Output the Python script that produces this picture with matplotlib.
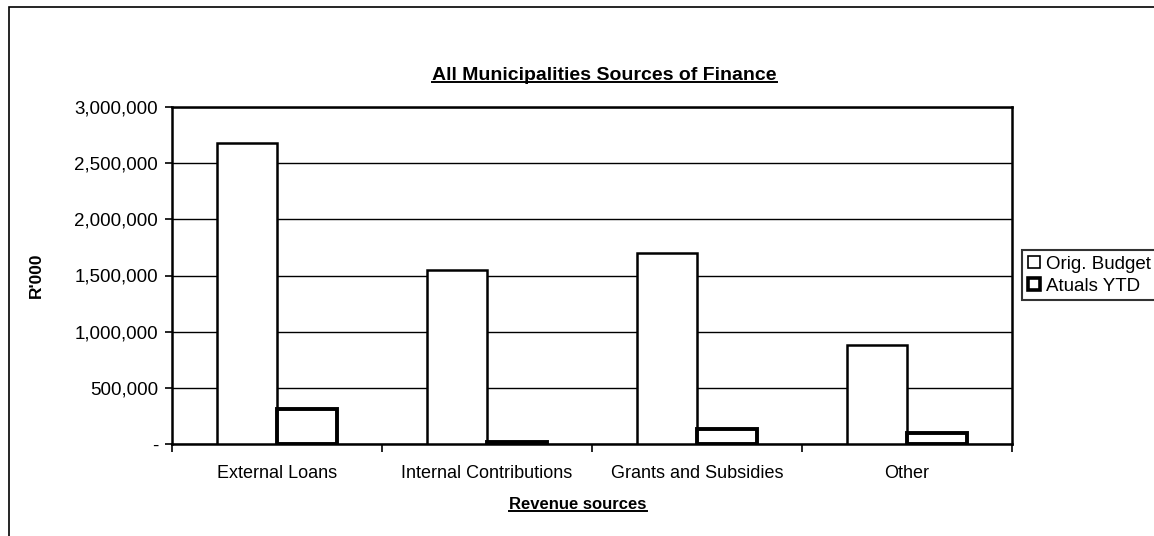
import matplotlib
matplotlib.use("Agg")
import matplotlib.pyplot as plt
from matplotlib.patches import Rectangle
from matplotlib.lines import Line2D
from matplotlib.ticker import FuncFormatter
import numpy as np

plt.rcParams["font.family"] = ["Liberation Sans", "DejaVu Sans"]

categories = ["External Loans", "Internal Contributions", "Grants and Subsidies", "Other"]
orig_budget = [2680000, 1550000, 1700000, 880000]
actuals_ytd = [310000, 20000, 135000, 100000]
series_names = ["Orig. Budget", "Atuals YTD"]

fig = plt.figure(figsize=(11.54, 5.36), dpi=100)
ax = fig.add_axes([172 / 1154, 92 / 536, 840 / 1154, 337 / 536])

x = np.arange(len(categories))
w = 60 / 210
ax.bar(x - w / 2, orig_budget, w, color="white", edgecolor="black", linewidth=1.8, zorder=3)
ax.bar(x + w / 2, actuals_ytd, w, color="white", edgecolor="black", linewidth=2.8, zorder=3)

ax.set_xlim(-0.5, len(categories) - 0.5)
ax.set_ylim(0, 3000000)
ax.set_yticks(np.arange(0, 3000001, 500000))
ax.yaxis.set_major_formatter(FuncFormatter(lambda v, p: "-" if v == 0 else f"{int(v):,}"))
ax.set_xticks(np.arange(-0.5, len(categories), 1.0))
ax.set_xticklabels([])
ax.set_xticks(x, minor=True)
ax.set_xticklabels(categories, minor=True, fontsize=13)
ax.tick_params(axis="x", which="minor", length=0, pad=15)
ax.tick_params(axis="x", which="major", length=6, width=1.2, direction="out")
ax.tick_params(axis="y", length=5, width=1.2, labelsize=13.5, pad=5)
ax.grid(axis="y", color="black", linewidth=1.0, zorder=0)
for s in ax.spines.values():
    s.set_linewidth(1.8)

ax.set_ylabel("R'000", fontsize=12.5, fontweight="bold", labelpad=22)

title = fig.text(0.524, 0.86, "All Municipalities Sources of Finance", ha="center", va="center",
                 fontsize=14, fontweight="bold")
xlab = fig.text(0.501, 0.058, "Revenue sources", ha="center", va="center",
                fontsize=12, fontweight="bold")

# legend
h1 = Line2D([], [], marker="s", linestyle="none", markersize=8, markerfacecolor="white",
            markeredgecolor="black", markeredgewidth=1.2)
h2 = Line2D([], [], marker="s", linestyle="none", markersize=8, markerfacecolor="white",
            markeredgecolor="black", markeredgewidth=2.6)
leg = fig.legend([h1, h2], series_names, loc="upper left", bbox_to_anchor=(1022 / 1154, 1 - 250 / 536),
                 fontsize=13.5, frameon=True, fancybox=False, handlelength=0.7, handletextpad=0.3,
                 borderpad=0.3, labelspacing=0.25, borderaxespad=0)
leg.get_frame().set_edgecolor("black")
leg.get_frame().set_linewidth(1.5)

# outer chart border
fig.patches.append(Rectangle((9 / 1154, -0.1), 1.2, 1 - 7 / 536 + 0.1, transform=fig.transFigure,
                             fill=False, edgecolor="black", linewidth=1.2))

# underlines for title and axis label
fig.canvas.draw()
r = fig.canvas.get_renderer()
inv = fig.transFigure.inverted()
for t in (title, xlab):
    bb = t.get_window_extent(r).transformed(inv)
    fig.add_artist(Line2D([bb.x0, bb.x1], [bb.y0 + 0.002, bb.y0 + 0.002], transform=fig.transFigure,
                          color="black", linewidth=1.4))

fig.savefig("out.png", dpi=100)
